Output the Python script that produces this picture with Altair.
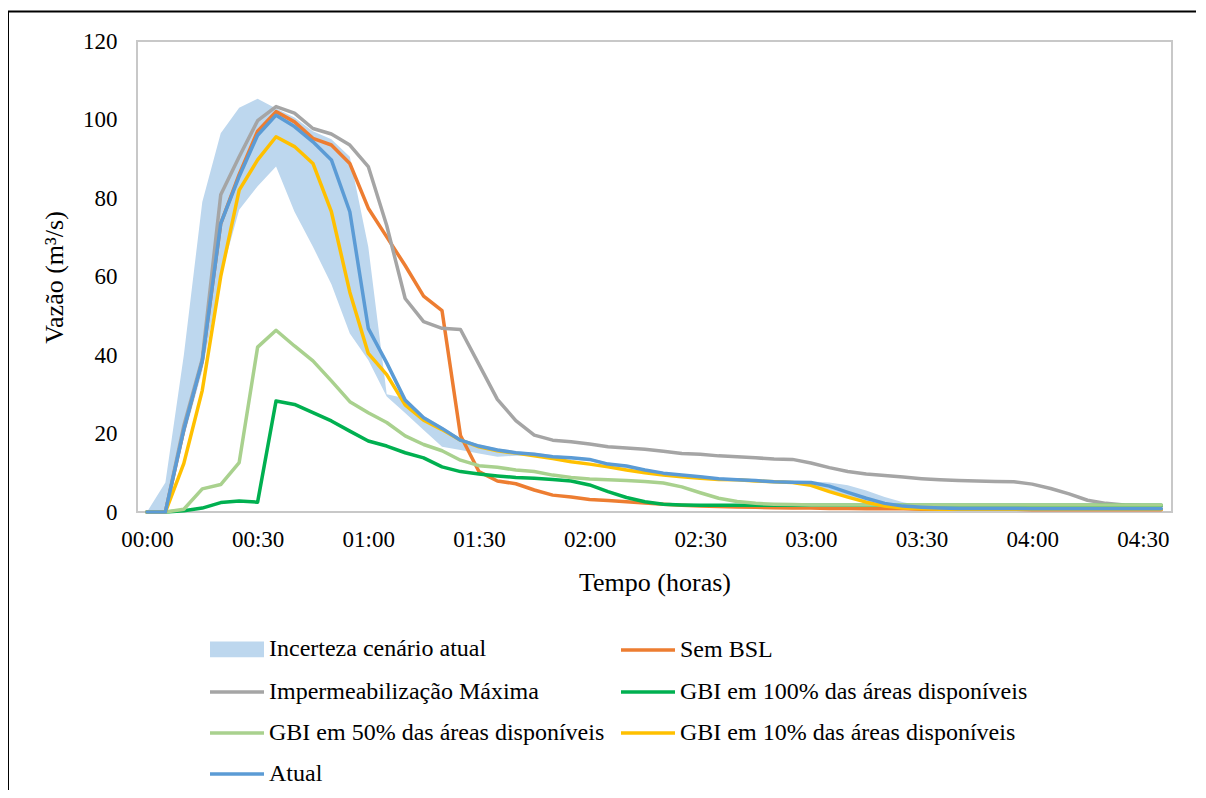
import altair as alt
import pandas as pd

# ---- data (minutes from 00:00, 5-minute steps) ----
tempo_min = list(range(0, 280, 5))

atual = [0, 0, 21, 38.5, 73.5, 85.5, 96, 101.1, 98.2, 94.3, 89.7, 76.5, 46.8, 38, 28.5, 24,
         21.3, 18.3, 16.8, 15.8, 15.1, 14.7, 14.1, 13.8, 13.4, 12.2, 11.7, 10.7, 9.9, 9.4, 9.0,
         8.5, 8.2, 8.0, 7.7, 7.6, 7.5, 6.6, 5.0, 3.5, 2.2, 1.5, 1.2, 1.0, 0.9, 0.9, 0.9, 0.9,
         0.8, 0.8, 0.8, 0.8, 0.8, 0.8, 0.8, 0.8]
gbi10 = [0, 0, 12.4, 31, 60, 82, 89.7, 95.6, 93.1, 88.8, 76.5, 56, 40.4, 35, 27.3, 23.4,
         21, 18.3, 16.6, 15.6, 15.0, 14.3, 13.6, 12.8, 12.2, 11.5, 10.7, 10.0, 9.4, 9.0, 8.6,
         8.3, 8.2, 7.9, 7.7, 7.5, 6.8, 5.2, 3.8, 2.5, 1.5, 1.0, 0.8, 0.7, 0.7, 0.7, 0.7, 0.7,
         0.7, 0.7, 0.7, 0.7, 0.7, 0.7, 0.7, 0.7]
sem_bsl = [0, 0, 21, 38.5, 73.5, 86, 97, 102, 99.4, 95.2, 93.5, 88.8, 77.4, 70.1, 62.8, 55,
           51.3, 19.5, 10.3, 7.9, 7.2, 5.6, 4.3, 3.8, 3.2, 2.9, 2.6, 2.3, 2.0, 1.7, 1.5,
           1.4, 1.3, 1.2, 1.1, 1.0, 1.0, 0.9, 0.9, 0.8, 0.8, 0.8, 0.7, 0.7, 0.7, 0.7, 0.7, 0.7,
           0.6, 0.6, 0.6, 0.6, 0.6, 0.6, 0.6, 0.6]
imperm = [0, 0, 22, 39, 80.8, 90.5, 99.7, 103.3, 101.6, 97.7, 96.3, 93.5, 88, 73, 54.4, 48.5,
          46.8, 46.5, 37.6, 28.7, 23.3, 19.6, 18.3, 17.9, 17.3, 16.6, 16.3, 16.0, 15.5, 14.9, 14.7,
          14.3, 14.1, 13.8, 13.5, 13.4, 12.5, 11.3, 10.3, 9.7, 9.3, 8.9, 8.5, 8.2, 8.0, 7.9, 7.8,
          7.7, 7.1, 6.0, 4.6, 3.0, 2.2, 1.8, 1.6, 1.5]
gbi100 = [0, 0, 0.3, 1.0, 2.4, 2.8, 2.5, 28.3, 27.4, 25.3, 23.2, 20.6, 18.1, 16.8, 15.1, 13.8,
          11.5, 10.3, 9.7, 9.2, 8.8, 8.6, 8.3, 7.9, 6.9, 5.2, 3.7, 2.6, 2.0, 1.8, 1.7,
          1.7, 1.7, 1.7, 1.7, 1.7, 1.7, 1.7, 1.7, 1.7, 1.7, 1.7, 1.7, 1.7, 1.7, 1.7, 1.7, 1.7,
          1.7, 1.7, 1.7, 1.7, 1.7, 1.7, 1.7, 1.7]
gbi50 = [0, 0, 0.7, 5.9, 7.0, 12.6, 42, 46.3, 42.3, 38.5, 33.4, 28.1, 25.3, 22.8, 19.4, 17.2,
         15.6, 13.2, 11.8, 11.4, 10.7, 10.3, 9.4, 8.8, 8.4, 8.2, 8.0, 7.8, 7.4, 6.4, 4.9,
         3.5, 2.7, 2.2, 2.0, 1.9, 1.8, 1.8, 1.8, 1.8, 1.8, 1.8, 1.8, 1.8, 1.8, 1.8, 1.8, 1.8,
         1.8, 1.8, 1.8, 1.8, 1.8, 1.8, 1.8, 1.8]
band_upper = [0, 7.5, 40, 79, 96.5, 103, 105.3, 102.8, 100.5, 97, 95, 90.5, 67.6, 30, 29, 24.5,
              21.8, 18.8, 17.2, 16.2, 15.5, 15.1, 14.5, 14.1, 13.7, 12.6, 12.0, 11.0, 10.2, 9.7, 9.3,
              8.8, 8.5, 8.3, 8.0, 7.9, 7.8, 7.5, 6.8, 5.5, 3.8, 2.5, 1.6, 1.2, 1.0, 1.0, 1.0, 1.0,
              1.0, 1.0, 1.0, 1.0, 1.0, 1.0, 1.0, 1.0]
band_lower = [0, 0, 19, 36, 60, 77, 83, 88, 76.5, 67.6, 58, 45.5, 38.7, 29.4, 25.2, 20.9,
              16.6, 15.8, 14.9, 14.1, 14.3, 14.3, 13.8, 13.4, 13.0, 11.8, 11.3, 10.3, 9.5, 9.0, 8.6,
              8.2, 7.9, 7.7, 7.4, 7.2, 6.6, 5.0, 3.6, 2.3, 1.4, 1.0, 0.8, 0.6, 0.6, 0.6, 0.6, 0.6,
              0.6, 0.6, 0.6, 0.6, 0.6, 0.6, 0.6, 0.6]

series_names = ["Incerteza cenário atual", "Sem BSL", "Impermeabilização Máxima",
                "GBI em 100% das áreas disponíveis", "GBI em 50% das áreas disponíveis",
                "GBI em 10% das áreas disponíveis", "Atual"]
series_colors = ["#BDD7EE", "#ED7D31", "#A5A5A5", "#00B050", "#A9D18E", "#FFC000", "#5B9BD5"]
tick_minutes = [0, 30, 60, 90, 120, 150, 180, 210, 240, 270]

line_values = {
    "Sem BSL": sem_bsl,
    "Impermeabilização Máxima": imperm,
    "GBI em 100% das áreas disponíveis": gbi100,
    "GBI em 50% das áreas disponíveis": gbi50,
    "GBI em 10% das áreas disponíveis": gbi10,
    "Atual": atual,
}

rows = []
for name, vals in line_values.items():
    for t, v in zip(tempo_min, vals):
        rows.append({"tempo": t, "vazao": v, "serie": name})
df_lines = pd.DataFrame(rows)
df_band = pd.DataFrame({"tempo": tempo_min, "lo": band_lower, "hi": band_upper,
                        "serie": series_names[0]})

FONT = "Times New Roman, Liberation Serif, DejaVu Serif, serif"

PATCH = "M-0.935,-0.23L0.935,-0.23L0.935,0.23L-0.935,0.23Z"
legend = alt.Legend(
    orient="none", legendX=71, legendY=579, columns=2, direction="horizontal", title=None,
    symbolType=alt.ExprRef(
        "datum.label === 'Incerteza cenário atual' ? '" + PATCH + "' : 'stroke'"),
    symbolSize=2916, symbolStrokeWidth=3.5, symbolFillColor="#BDD7EE",
    labelFont=FONT, labelFontSize=24, labelColor="#000000", labelOffset=3,
    rowPadding=0, columnPadding=9, symbolLimit=0, labelLimit=0,
)
color = alt.Color("serie:N", scale=alt.Scale(domain=series_names, range=series_colors),
                  legend=legend)

x_enc = alt.X("tempo:Q", scale=alt.Scale(domain=[-2.7, 277.9], nice=False, zero=False),
              axis=alt.Axis(values=tick_minutes, grid=False, ticks=False, domain=False,
                            labelExpr="(floor(datum.value/60) < 10 ? '0' : '') + floor(datum.value/60) + ':' + (datum.value % 60 < 10 ? '0' : '') + (datum.value % 60)",
                            labelFont=FONT, labelFontSize=23, labelColor="#000000",
                            labelBaseline="alphabetic", labelPadding=34,
                            title="Tempo (horas)", titleFont=FONT, titleFontSize=26,
                            titleFontWeight="normal", titleColor="#000000",
                            titleBaseline="alphabetic", titleY=78))
y_scale = alt.Scale(domain=[0, 120], nice=False)
y_axis = alt.Axis(values=[0, 20, 40, 60, 80, 100, 120], grid=False, ticks=False, domain=False,
                  labelFont=FONT, labelFontSize=23, labelColor="#000000", labelPadding=20,
                  title="Vazão (m³/s)", titleFont=FONT, titleFontSize=26,
                  titleFontWeight="normal", titleColor="#000000",
                  titleX=-70, titleY=236)

band = alt.Chart(df_band).mark_area(opacity=1).encode(
    x=x_enc,
    y=alt.Y("lo:Q", scale=y_scale, axis=y_axis),
    y2="hi:Q",
    color=color,
)

layers = [band]
for name in line_values:
    layers.append(
        alt.Chart(df_lines).transform_filter(alt.datum.serie == name)
        .mark_line(strokeWidth=3.5, strokeJoin="round", strokeCap="round")
        .encode(x=x_enc, y=alt.Y("vazao:Q", scale=y_scale, axis=y_axis), color=color)
    )

frame_data = alt.Data(values=[{"k": 1}])
border_left = alt.Chart(frame_data).mark_rule(color="#000000", strokeWidth=2).encode(
    x=alt.value(-129), y=alt.value(-29.5), y2=alt.value(760))
border_top = alt.Chart(frame_data).mark_rule(color="#000000", strokeWidth=2).encode(
    x=alt.value(-129), x2=alt.value(1070), y=alt.value(-29.5))
layers += [border_left, border_top]

chart = alt.layer(*layers).properties(
    width=1035, height=471,
    autosize=alt.AutoSizeParams(type="none"),
    padding={"left": 129, "top": 33, "right": 24, "bottom": 278},
).configure(
    background="white", font=FONT
).configure_axis(
    labelFont=FONT, titleFont=FONT
).configure_legend(
    labelFont=FONT
).configure_view(stroke="#C8C8C8", strokeWidth=2)

chart.save("out.html", embed_options={"renderer": "svg", "actions": False})
